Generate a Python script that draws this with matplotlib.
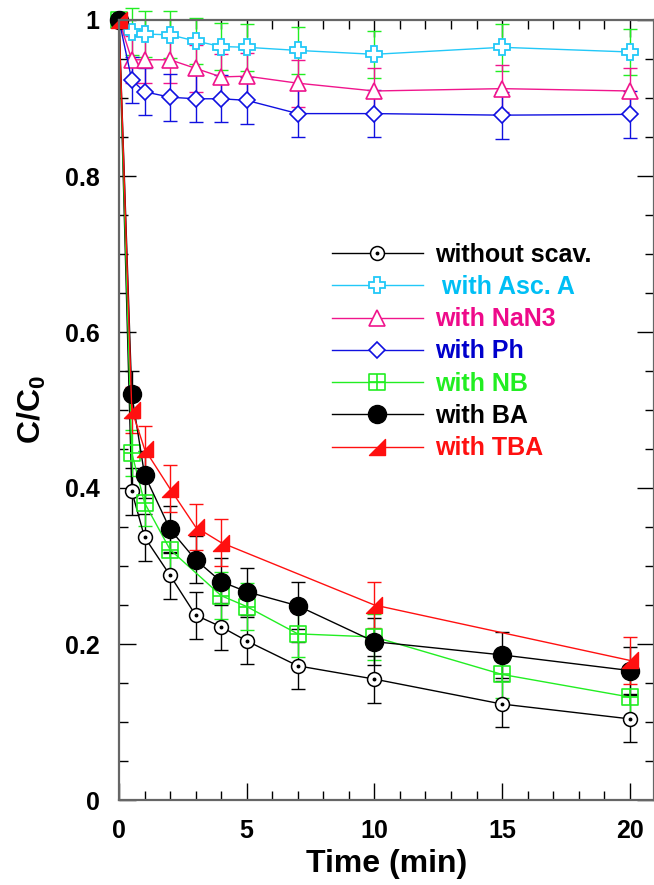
import numpy as np
import matplotlib
matplotlib.use('Agg')
import matplotlib.pyplot as plt
from matplotlib.path import Path
from matplotlib.ticker import MultipleLocator, FuncFormatter

plt.rcParams['font.family'] = ['Liberation Sans', 'DejaVu Sans']
plt.rcParams['font.weight'] = 'bold'
plt.rcParams['mathtext.fontset'] = 'custom'
plt.rcParams['mathtext.bf'] = 'Liberation Sans:bold'
plt.rcParams['mathtext.rm'] = 'Liberation Sans:bold'

# data
t_full = [0, 0.5, 1, 2, 3, 4, 5, 7, 10, 15, 20]
t_nb = [0, 0.5, 1, 2, 4, 5, 7, 10, 15, 20]
t_tba = [0, 0.5, 1, 2, 3, 4, 10, 20]

c_without = [1.0, 0.396, 0.337, 0.288, 0.237, 0.222, 0.204, 0.172, 0.155, 0.123, 0.104]
c_asc = [1.0, 0.985, 0.982, 0.981, 0.973, 0.966, 0.965, 0.961, 0.956, 0.965, 0.959]
c_nan3 = [1.0, 0.949, 0.949, 0.949, 0.938, 0.927, 0.928, 0.919, 0.909, 0.912, 0.909]
c_ph = [1.0, 0.923, 0.908, 0.901, 0.899, 0.899, 0.897, 0.880, 0.880, 0.878, 0.879]
c_nb = [1.0, 0.445, 0.381, 0.321, 0.262, 0.248, 0.213, 0.209, 0.161, 0.132]
c_ba = [1.0, 0.520, 0.417, 0.347, 0.308, 0.280, 0.267, 0.249, 0.203, 0.186, 0.166]
c_tba = [1.0, 0.500, 0.450, 0.399, 0.350, 0.330, 0.250, 0.179]

err_full = [0, 0.03, 0.03, 0.03, 0.03, 0.03, 0.03, 0.03, 0.03, 0.03, 0.03]
err_nb = [0, 0.03, 0.03, 0.03, 0.03, 0.03, 0.03, 0.03, 0.03, 0.03]
err_tba = [0, 0.03, 0.03, 0.03, 0.03, 0.03, 0.03, 0.03]

labels = ['without scav.', ' with Asc. A', 'with NaN3', 'with Ph', 'with NB', 'with BA', 'with TBA']
text_colors = ['black', '#00BFF5', '#EE0A8A', '#0000CC', '#22EE22', 'black', '#FF1010']

CYAN = '#22C8F8'
PINK = '#F0158C'
BLUE = '#1010E0'
GREEN = '#22EE22'
RED = '#FF1010'

# custom markers: square with cross, right triangle
grid_sq = Path([(-1, -1), (1, -1), (1, 1), (-1, 1), (-1, -1),
                (0, -1), (0, 1), (-1, 0), (1, 0)],
               [Path.MOVETO, Path.LINETO, Path.LINETO, Path.LINETO, Path.CLOSEPOLY,
                Path.MOVETO, Path.LINETO, Path.MOVETO, Path.LINETO])
wedge = Path([(-1, -1), (1, -1), (1, 1), (-1, -1)],
             [Path.MOVETO, Path.LINETO, Path.LINETO, Path.CLOSEPOLY])

fig = plt.figure(figsize=(6.54, 8.85), dpi=100)
ax = fig.add_axes([119 / 654, 85 / 885, 535 / 654, 780 / 885])

ekw = dict(fmt='none', capsize=5, elinewidth=1, capthick=1, clip_on=False)
ax.errorbar(t_full, c_without, yerr=err_full, ecolor='black', **ekw)
ax.errorbar(t_full, c_asc, yerr=err_full, ecolor=GREEN, **ekw)
ax.errorbar(t_full, c_nan3, yerr=err_full, ecolor=PINK, **ekw)
ax.errorbar(t_full, c_ph, yerr=err_full, ecolor=BLUE, **ekw)
ax.errorbar(t_nb, c_nb, yerr=err_nb, ecolor=GREEN, **ekw)
ax.errorbar(t_full, c_ba, yerr=err_full, ecolor='black', **ekw)
ax.errorbar(t_tba, c_tba, yerr=err_tba, ecolor=RED, **ekw)

l1, = ax.plot(t_full, c_without, '-', color='black', lw=1, marker='o', ms=10,
              mfc='white', mec='black', mew=1.1, clip_on=False)
d1, = ax.plot(t_full, c_without, ls='none', marker='o', ms=1.8, color='black', clip_on=False)
l2, = ax.plot(t_full, c_asc, '-', color=CYAN, lw=1, marker='P', ms=12,
              mfc='white', mec=CYAN, mew=1.3, clip_on=False)
l3, = ax.plot(t_full, c_nan3, '-', color=PINK, lw=1, marker='^', ms=12,
              mfc='white', mec=PINK, mew=1.2, clip_on=False)
l4, = ax.plot(t_full, c_ph, '-', color=BLUE, lw=1, marker='D', ms=8.5,
              mfc='white', mec=BLUE, mew=1.2, clip_on=False)
l5, = ax.plot(t_nb, c_nb, '-', color=GREEN, lw=1, marker=grid_sq, ms=12,
              mfc='none', mec=GREEN, mew=1.2, clip_on=False)
l6, = ax.plot(t_full, c_ba, '-', color='black', lw=1, marker='o', ms=13,
              mfc='black', mec='black', clip_on=False)
l7, = ax.plot(t_tba, c_tba, '-', color=RED, lw=1, marker=wedge, ms=12,
              mfc=RED, mec=RED, clip_on=False)

ax.set_xlim(0, 20.95)
ax.set_ylim(0, 1)
ax.xaxis.set_major_locator(MultipleLocator(5))
ax.xaxis.set_minor_locator(MultipleLocator(1))
ax.yaxis.set_major_locator(MultipleLocator(0.2))
ax.yaxis.set_minor_locator(MultipleLocator(0.05))
ax.yaxis.set_major_formatter(FuncFormatter(lambda v, p: f'{v:g}'))
ax.tick_params(which='both', direction='in', top=True, right=True, width=1, color='black')
ax.tick_params(which='major', length=12.5, labelsize=18, pad=14)
ax.tick_params(which='minor', length=6.5)
for lab in ax.get_xticklabels() + ax.get_yticklabels():
    lab.set_fontweight('bold')
for s in ax.spines.values():
    s.set_color('#666666')
    s.set_linewidth(1.6)

ax.set_xlabel('Time (min)', fontsize=23, fontweight='bold', labelpad=4)
ax.set_ylabel(r'C/C$_\mathbf{0}$', fontsize=23, fontweight='bold', labelpad=12)

leg = ax.legend([(l1, d1), l2, l3, l4, l5, l6, l7], labels,
                loc='center left', bbox_to_anchor=(0.398, 0.575),
                frameon=False, fontsize=18, numpoints=1,
                handlelength=3.64, handletextpad=0.48, labelspacing=0.33,
                borderpad=0, borderaxespad=0)
for txt, col in zip(leg.get_texts(), text_colors):
    txt.set_color(col)
    txt.set_fontweight('bold')

fig.savefig('out.png', dpi=100)
